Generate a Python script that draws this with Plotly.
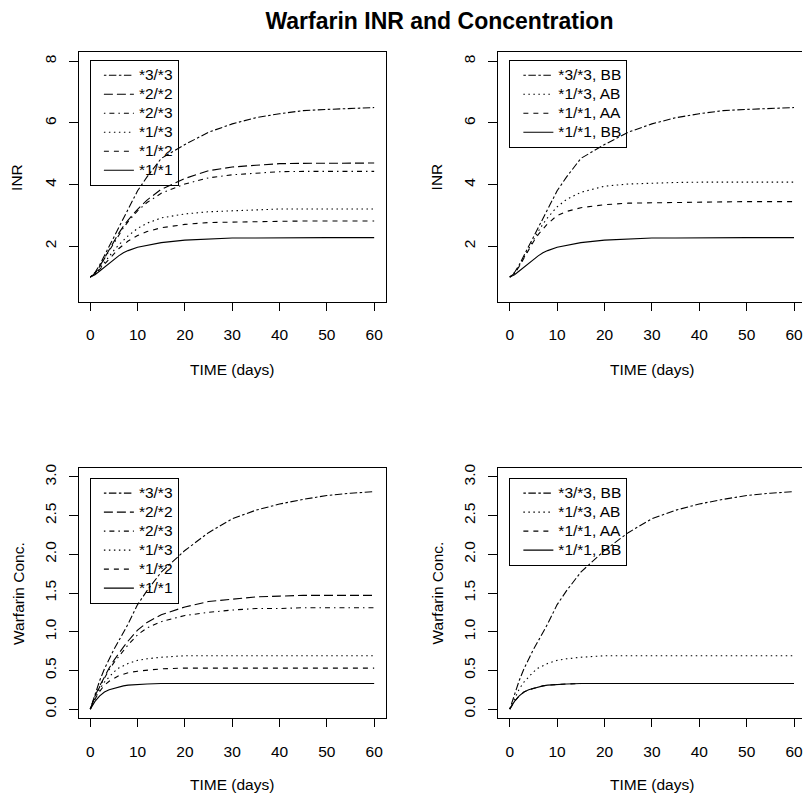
import plotly.graph_objects as go

# ---------------- data ----------------
time_days = [0, 1, 2, 3, 4, 5, 6, 7, 8, 10, 12, 15, 20, 25, 30, 35, 40, 45, 50, 55, 60]

# INR by CYP2C9 genotype (VKORC1 BB)
inr_33 = [1, 1.15, 1.40, 1.70, 2.00, 2.30, 2.60, 2.95, 3.25, 3.80, 4.25, 4.85, 5.30, 5.70, 5.97, 6.17, 6.30, 6.40, 6.44, 6.47, 6.50]
inr_22 = [1, 1.12, 1.35, 1.62, 1.90, 2.17, 2.42, 2.65, 2.85, 3.20, 3.50, 3.85, 4.20, 4.45, 4.57, 4.63, 4.68, 4.69, 4.70, 4.70, 4.70]
inr_23 = [1, 1.12, 1.35, 1.60, 1.88, 2.14, 2.38, 2.60, 2.80, 3.15, 3.42, 3.72, 4.02, 4.22, 4.32, 4.37, 4.42, 4.43, 4.43, 4.43, 4.43]
inr_13 = [1, 1.10, 1.28, 1.48, 1.68, 1.87, 2.04, 2.20, 2.34, 2.58, 2.75, 2.92, 3.05, 3.12, 3.16, 3.18, 3.21, 3.21, 3.21, 3.21, 3.21]
inr_12 = [1, 1.10, 1.25, 1.42, 1.60, 1.77, 1.92, 2.05, 2.17, 2.35, 2.48, 2.60, 2.71, 2.77, 2.79, 2.80, 2.81, 2.82, 2.82, 2.82, 2.82]
inr_11 = [1, 1.08, 1.20, 1.33, 1.46, 1.58, 1.69, 1.79, 1.86, 1.97, 2.04, 2.12, 2.20, 2.24, 2.27, 2.27, 2.28, 2.28, 2.28, 2.28, 2.28]

# INR by CYP2C9 + VKORC1
inr_33_bb = inr_33
inr_13_ab = [1, 1.12, 1.36, 1.65, 1.95, 2.22, 2.48, 2.72, 2.93, 3.28, 3.52, 3.75, 3.95, 4.02, 4.05, 4.07, 4.08, 4.08, 4.08, 4.08, 4.08]
inr_11_aa = [1, 1.12, 1.35, 1.62, 1.90, 2.15, 2.38, 2.57, 2.73, 3.00, 3.13, 3.25, 3.35, 3.40, 3.41, 3.42, 3.45, 3.45, 3.45, 3.45, 3.45]
inr_11_bb = inr_11

# Warfarin concentration by CYP2C9 genotype
conc_33 = [0, 0.20, 0.37, 0.52, 0.65, 0.77, 0.88, 0.99, 1.10, 1.35, 1.53, 1.77, 2.05, 2.28, 2.46, 2.57, 2.65, 2.71, 2.76, 2.79, 2.81]
conc_22 = [0, 0.17, 0.30, 0.42, 0.53, 0.63, 0.72, 0.80, 0.88, 1.02, 1.12, 1.22, 1.32, 1.39, 1.42, 1.45, 1.46, 1.47, 1.47, 1.47, 1.47]
conc_23 = [0, 0.16, 0.29, 0.41, 0.51, 0.60, 0.68, 0.76, 0.83, 0.96, 1.05, 1.13, 1.21, 1.25, 1.28, 1.30, 1.30, 1.31, 1.31, 1.31, 1.31]
conc_13 = [0, 0.14, 0.26, 0.35, 0.42, 0.48, 0.53, 0.56, 0.59, 0.63, 0.65, 0.67, 0.69, 0.69, 0.69, 0.69, 0.69, 0.69, 0.69, 0.69, 0.69]
conc_12 = [0, 0.13, 0.23, 0.31, 0.36, 0.40, 0.43, 0.45, 0.47, 0.49, 0.50, 0.52, 0.53, 0.53, 0.53, 0.53, 0.53, 0.53, 0.53, 0.53, 0.53]
conc_11 = [0, 0.10, 0.17, 0.22, 0.25, 0.27, 0.29, 0.30, 0.31, 0.32, 0.325, 0.33, 0.33, 0.33, 0.33, 0.33, 0.33, 0.33, 0.33, 0.33, 0.33]

conc_33_bb = conc_33
conc_13_ab = conc_13
conc_11_aa = conc_11
conc_11_bb = conc_11

labels_geno = ["*3/*3", "*2/*2", "*2/*3", "*1/*3", "*1/*2", "*1/*1"]
labels_geno_vk = ["*3/*3, BB", "*1/*3, AB", "*1/*1, AA", "*1/*1, BB"]

x_ticks = [0, 10, 20, 30, 40, 50, 60]
inr_ticks = [2, 4, 6, 8]
conc_ticks = [0.0, 0.5, 1.0, 1.5, 2.0, 2.5, 3.0]
conc_ticktext = ["0.0", "0.5", "1.0", "1.5", "2.0", "2.5", "3.0"]

# ---------------- styles (R lty equivalents) ----------------
SOLID = "solid"
DASHED = "5px,5px"
DOTTED = "1.5px,3.5px"
DOTDASH = "1.5px,4px,5px,4px"
LONGDASH = "9px,4px"
TWODASH = "2.5px,2.5px,7.5px,2.5px"

FONT = "Liberation Sans, Arial, Helvetica, sans-serif"
FS = 15.5
W, H = 803, 795

fig = go.Figure()


def add(x, y, name, dash, xa, ya, legend):
    fig.add_trace(go.Scatter(
        x=x, y=y, mode="lines",
        name='<span style="font-size:%spx">%s</span>' % (FS, name),
        line=dict(color="black", width=1.1, dash=dash),
        xaxis=xa, yaxis=ya, legend=legend, showlegend=True,
    ))


geno_series_inr = [inr_33, inr_22, inr_23, inr_13, inr_12, inr_11]
geno_series_conc = [conc_33, conc_22, conc_23, conc_13, conc_12, conc_11]
geno_dash = [TWODASH, LONGDASH, DOTDASH, DOTTED, DASHED, SOLID]
vk_series_inr = [inr_33_bb, inr_13_ab, inr_11_aa, inr_11_bb]
vk_series_conc = [conc_33_bb, conc_13_ab, conc_11_aa, conc_11_bb]
vk_dash = [TWODASH, DOTTED, DASHED, SOLID]

for lab, s, d in zip(labels_geno, geno_series_inr, geno_dash):
    add(time_days, s, lab, d, "x", "y", "legend")
for lab, s, d in zip(labels_geno_vk, vk_series_inr, vk_dash):
    add(time_days, s, lab, d, "x2", "y2", "legend2")
for lab, s, d in zip(labels_geno, geno_series_conc, geno_dash):
    add(time_days, s, lab, d, "x3", "y3", "legend3")
for lab, s, d in zip(labels_geno_vk, vk_series_conc, vk_dash):
    add(time_days, s, lab, d, "x4", "y4", "legend4")

# ---------------- layout (pixel geometry) ----------------
L_LEFT, L_RIGHT = 79, 386
R_LEFT = 499
TOP_T, TOP_B = 48.3, 299.3
BOT_T, BOT_B = 466, 718
PX_PER_DAY = (375 - 90) / 60.0
right_max = (W - (R_LEFT + 11)) / PX_PER_DAY


def px(xv):
    return xv / W


def py(yv):
    return 1 - yv / H


tickfont = dict(family=FONT, size=FS, color="black")
common_x = dict(showgrid=False, zeroline=False, showline=True, linecolor="black", linewidth=1,
                ticks="outside", ticklen=8, tickwidth=1, tickcolor="black",
                tickvals=x_ticks, tickfont=tickfont, ticklabelstandoff=11,
                ticklabeloverflow="allow")
common_y = dict(showgrid=False, zeroline=False, showline=True, linecolor="black", linewidth=1,
                ticks="outside", ticklen=9, tickwidth=1, tickcolor="black",
                tickfont=tickfont, tickangle=-90, ticklabelstandoff=7)

legend_common = dict(bgcolor="rgba(0,0,0,0)", bordercolor="black", borderwidth=1,
                     font=dict(family=FONT, size=11.4, color="black"),
                     xanchor="left", yanchor="top", itemwidth=30, tracegroupgap=0,
                     indentation=8)

fig.update_layout(
    width=W, height=H,
    margin=dict(l=0, r=0, t=0, b=0),
    paper_bgcolor="white", plot_bgcolor="white",
    font=dict(family=FONT, size=FS, color="black"),
    title=dict(text="<b>Warfarin INR and Concentration</b>", x=440 / W, xanchor="center",
               xref="paper", y=py(21), yref="container", yanchor="middle",
               font=dict(family=FONT, size=23, color="black")),
    xaxis=dict(domain=[px(L_LEFT), px(L_RIGHT)], range=[-2.4, 62.4], anchor="y", mirror=True, **common_x),
    yaxis=dict(domain=[py(TOP_B), py(TOP_T)], range=[0.2, 8.3], anchor="x", mirror=True,
               tickvals=inr_ticks, **common_y),
    xaxis2=dict(domain=[px(R_LEFT), 1.0], range=[-2.4, right_max], anchor="y2", mirror=True, **common_x),
    yaxis2=dict(domain=[py(TOP_B), py(TOP_T)], range=[0.2, 8.3], anchor="x2", mirror=False,
                tickvals=inr_ticks, **common_y),
    xaxis3=dict(domain=[px(L_LEFT), px(L_RIGHT)], range=[-2.4, 62.4], anchor="y3", mirror=True, **common_x),
    yaxis3=dict(domain=[py(BOT_B), py(BOT_T)], range=[-0.12, 3.12], anchor="x3", mirror=True,
                tickvals=conc_ticks, ticktext=conc_ticktext, **common_y),
    xaxis4=dict(domain=[px(R_LEFT), 1.0], range=[-2.4, right_max], anchor="y4", mirror=True, **common_x),
    yaxis4=dict(domain=[py(BOT_B), py(BOT_T)], range=[-0.12, 3.12], anchor="x4", mirror=False,
                tickvals=conc_ticks, ticktext=conc_ticktext, **common_y),
    legend=dict(x=px(90), y=py(56), **legend_common),
    legend2=dict(x=px(510), y=py(56), **legend_common),
    legend3=dict(x=px(90), y=py(476), **legend_common),
    legend4=dict(x=px(510), y=py(476), **legend_common),
)

ann_font = dict(family=FONT, size=FS, color="black")
annotations = []
for cx, cy in [((L_LEFT + L_RIGHT) / 2, TOP_B + 68.5), ((R_LEFT + 806) / 2, TOP_B + 68.5),
               ((L_LEFT + L_RIGHT) / 2, BOT_B + 66.5), ((R_LEFT + 806) / 2, BOT_B + 66.5)]:
    annotations.append(dict(text="TIME (days)", x=px(cx), y=py(cy), xref="paper", yref="paper",
                            xanchor="center", yanchor="middle", showarrow=False, font=ann_font))
for cx, cy, t in [(L_LEFT - 62, (TOP_T + TOP_B) / 2, "INR"), (R_LEFT - 62, (TOP_T + TOP_B) / 2, "INR"),
                  (L_LEFT - 61, (BOT_T + BOT_B) / 2, "Warfarin Conc."),
                  (R_LEFT - 61, (BOT_T + BOT_B) / 2, "Warfarin Conc.")]:
    annotations.append(dict(text=t, x=px(cx), y=py(cy), xref="paper", yref="paper", textangle=-90,
                            xanchor="center", yanchor="middle", showarrow=False, font=ann_font))
fig.update_layout(annotations=annotations)

# remove the browser's default 8px body margin so the figure sits at the page origin
fig.write_html("out.html", config={"displayModeBar": False},
               post_script="document.body.style.margin='0';document.body.style.overflow='hidden';")
